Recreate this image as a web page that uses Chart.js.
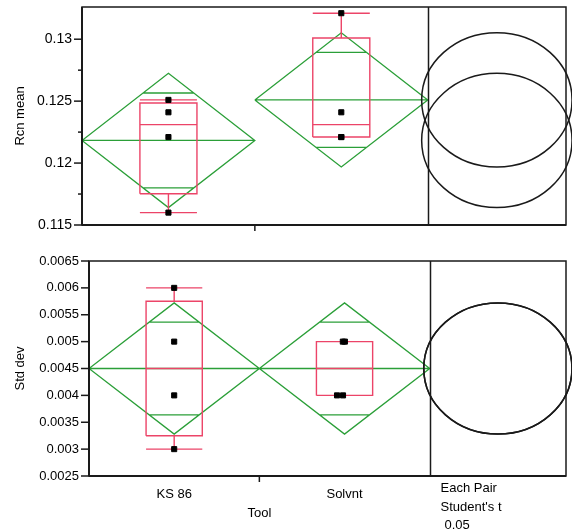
<!DOCTYPE html>
<html>
<head>
<meta charset="utf-8">
<script src="https://cdn.jsdelivr.net/npm/chart.js@4"></script>
<style>
    body { margin: 0; background: #fff; }
    .box { position: absolute; left: 0; width: 572px; }
</style>
</head>
<body>
<div class="box" style="top:0;height:250px"><canvas id="topChart"></canvas></div>
<div class="box" style="top:250px;height:281px"><canvas id="bottomChart"></canvas></div>
<script>
const tools = ['KS 86', 'Solvnt'];

// Rcn mean of each run, per tool
const rcnKS86 = [0.1251, 0.1241, 0.1221, 0.1160];
const rcnSolvnt = [0.1321, 0.1241, 0.1221, 0.1221];

// Std dev of each run, per tool
const sdKS86 = [0.0060, 0.0050, 0.0040, 0.0030];
const sdSolvnt = [0.0050, 0.0050, 0.0040, 0.0040];

// 95% half width of the means (pooled error)
const rcnCI = [0.00542, 0.00542];
const sdCI = [0.00122, 0.00122];

const rcnTicks = [0.115, 0.12, 0.125, 0.13];
const rcnMinorTicks = [0.1175, 0.1225, 0.1275];
const sdTicks = [0.0025, 0.003, 0.0035, 0.004, 0.0045, 0.005, 0.0055, 0.006, 0.0065];

const pairLabels = ['Each Pair', "Student's t", '0.05'];

const GREEN = '#2b9f38';
const PINK = '#ec4468';
const INK = '#1a1a1a';

Chart.defaults.font.family = '"Liberation Sans", Arial, sans-serif';
Chart.defaults.font.size = 13;
Chart.defaults.color = '#000';

function mean(a) {
    return a.reduce((s, v) => s + v, 0) / a.length;
}

// quantile the way JMP does it, position (n+1)p
function quantile(a, p) {
    var s = a.slice().sort((m, n) => m - n);
    var pos = (s.length + 1) * p - 1;
    var lo = Math.floor(pos);
    if (lo < 0) return s[0];
    if (lo >= s.length - 1) return s[s.length - 1];
    return s[lo] + (pos - lo) * (s[lo + 1] - s[lo]);
}

// means diamond + mean line + overlap marks
function diamondData(means, ci) {
    var pts = [];
    means.forEach((m, i) => {
        var h = ci[i] / Math.SQRT2;
        var w = 0.5 * (1 - h / ci[i]);
        pts.push({x: i, y: m}, {x: i + 0.5, y: m + ci[i]}, {x: i + 1, y: m}, {x: i + 0.5, y: m - ci[i]}, {x: i, y: m}, {x: i, y: null});
        pts.push({x: i, y: m}, {x: i + 1, y: m}, {x: i + 1, y: null});
        pts.push({x: i + 0.5 - w, y: m + h}, {x: i + 0.5 + w, y: m + h}, {x: i, y: null});
        pts.push({x: i + 0.5 - w, y: m - h}, {x: i + 0.5 + w, y: m - h}, {x: i, y: null});
    });
    return pts;
}

// outline box plot
function boxData(groups) {
    var pts = [];
    var hw = 0.165;
    groups.forEach((g, i) => {
        var c = i + 0.5;
        var q1 = quantile(g, 0.25), q2 = quantile(g, 0.5), q3 = quantile(g, 0.75);
        var lo = Math.min(...g), hi = Math.max(...g);
        pts.push({x: c - hw, y: q1}, {x: c + hw, y: q1}, {x: c + hw, y: q3}, {x: c - hw, y: q3}, {x: c - hw, y: q1}, {x: c, y: null});
        pts.push({x: c - hw, y: q2}, {x: c + hw, y: q2}, {x: c, y: null});
        pts.push({x: c, y: q3}, {x: c, y: hi}, {x: c, y: null});
        pts.push({x: c, y: q1}, {x: c, y: lo}, {x: c, y: null});
        pts.push({x: c - hw, y: hi}, {x: c + hw, y: hi}, {x: c, y: null});
        pts.push({x: c - hw, y: lo}, {x: c + hw, y: lo}, {x: c, y: null});
    });
    return pts;
}

function pointData(groups, jitter) {
    var pts = [];
    groups.forEach((g, i) => {
        g.forEach((v, j) => pts.push({x: i + 0.5 + (jitter ? jitter[i][j] : 0), y: v}));
    });
    return pts;
}

function datasets(groups, ci, jitter) {
    var means = groups.map(mean);
    return [
        {
            data: pointData(groups, jitter),
            pointStyle: 'rect',
            pointRadius: 3.6,
            pointBorderWidth: 1,
            pointBackgroundColor: '#000',
            pointBorderColor: '#000',
            showLine: false
        },
        {
            data: boxData(groups),
            showLine: true,
            borderColor: PINK,
            borderWidth: 1.4,
            pointRadius: 0
        },
        {
            data: diamondData(means, ci),
            showLine: true,
            borderColor: GREEN,
            borderWidth: 1.3,
            pointRadius: 0
        }
    ];
}

// frame, tick marks, comparison circles and loose labels
const panelPlugin = {
    id: 'panel',
    afterDraw(chart, args, opts) {
        const ctx = chart.ctx;
        const a = chart.chartArea;
        const x = chart.scales.x;
        const y = chart.scales.y;

        function line(x1, y1, x2, y2) {
            ctx.beginPath();
            ctx.moveTo(x1, y1);
            ctx.lineTo(x2, y2);
            ctx.stroke();
        }

        ctx.save();
        ctx.strokeStyle = INK;
        ctx.lineWidth = 1.5;
        ctx.strokeRect(a.left, a.top, a.right - a.left, a.bottom - a.top);
        var sx = Math.round(x.getPixelForValue(tools.length)) + 0.5;
        line(sx, a.top, sx, a.bottom);

        ctx.lineWidth = 2;
        line(a.left, a.top, a.left, a.bottom);
        line(a.left, a.bottom, a.right, a.bottom);

        ctx.lineWidth = 1.5;
        opts.major.forEach(v => {
            var py = y.getPixelForValue(v);
            line(a.left - 8, py, a.left, py);
        });
        (opts.minor || []).forEach(v => {
            var py = y.getPixelForValue(v);
            line(a.left - 4, py, a.left, py);
        });
        var tx = x.getPixelForValue(1);
        line(tx, a.bottom, tx, a.bottom + 6);

        opts.means.forEach((m, i) => {
            var cx = x.getPixelForValue(2.4);
            var cy = y.getPixelForValue(m);
            var ry = Math.abs(y.getPixelForValue(m + opts.ci[i]) - cy);
            var rx = Math.abs(x.getPixelForValue(2.4 + 0.435) - cx);
            ctx.beginPath();
            ctx.ellipse(cx, cy, rx, ry, 0, 0, 2 * Math.PI);
            ctx.stroke();
        });

        if (opts.labels) {
            ctx.fillStyle = '#000';
            ctx.font = '13px "Liberation Sans", Arial, sans-serif';
            ctx.textBaseline = 'middle';
            ctx.textAlign = 'center';
            ctx.fillText('Tool', x.getPixelForValue(1), a.bottom + 37);
            ctx.textAlign = 'left';
            ctx.fillText(pairLabels[0], sx + 10, a.bottom + 12);
            ctx.fillText(pairLabels[1], sx + 10, a.bottom + 31);
            ctx.fillText(pairLabels[2], sx + 14, a.bottom + 49);
        }
        ctx.restore();
    }
};

function fmt(v) {
    return String(+v.toFixed(5));
}

function makeChart(el, cfg) {
    return new Chart(document.getElementById(el), {
        type: 'scatter',
        data: { datasets: datasets(cfg.groups, cfg.ci, cfg.jitter) },
        plugins: [panelPlugin],
        options: {
            responsive: true,
            maintainAspectRatio: false,
            animation: false,
            events: [],
            layout: { padding: { left: 0, top: cfg.padTop, right: 6, bottom: 0 } },
            plugins: {
                legend: { display: false },
                tooltip: { enabled: false },
                panel: {
                    major: cfg.ticks,
                    minor: cfg.minor,
                    means: cfg.groups.map(mean),
                    ci: cfg.ci,
                    labels: cfg.labels
                }
            },
            scales: {
                x: {
                    type: 'linear',
                    min: 0,
                    max: 2.8,
                    grid: { display: false, drawTicks: false },
                    border: { display: false },
                    afterBuildTicks: s => { s.ticks = [{value: 0.5}, {value: 1.5}]; },
                    afterFit: s => { s.height = cfg.xHeight; s.paddingLeft = 0; s.paddingRight = 0; },
                    ticks: {
                        display: cfg.labels,
                        padding: 11,
                        maxRotation: 0,
                        callback: (v, i) => tools[i]
                    }
                },
                y: {
                    min: cfg.min,
                    max: cfg.max,
                    grid: { display: false, drawTicks: false },
                    border: { display: false },
                    afterBuildTicks: s => { s.ticks = cfg.ticks.map(v => ({value: v})); },
                    afterFit: s => { s.width = cfg.yWidth; s.paddingTop = 0; s.paddingBottom = 0; },
                    ticks: {
                        padding: 10,
                        font: { size: cfg.tickSize },
                        callback: v => fmt(v)
                    },
                    title: {
                        display: true,
                        text: cfg.title,
                        padding: { top: 13, bottom: 0 }
                    }
                }
            }
        }
    });
}

makeChart('topChart', {
    groups: [rcnKS86, rcnSolvnt],
    ci: rcnCI,
    ticks: rcnTicks,
    minor: rcnMinorTicks,
    min: 0.115,
    max: 0.1326,
    title: 'Rcn mean',
    tickSize: 14,
    padTop: 7,
    yWidth: 82,
    xHeight: 25,
    labels: false
});

makeChart('bottomChart', {
    groups: [sdKS86, sdSolvnt],
    ci: sdCI,
    jitter: [[0, 0, 0, 0], [-0.01, 0.002, -0.044, -0.009]],
    ticks: sdTicks,
    min: 0.0025,
    max: 0.0065,
    title: 'Std dev',
    tickSize: 13,
    padTop: 11,
    yWidth: 89,
    xHeight: 55,
    labels: true
});
</script>
</body>
</html>
